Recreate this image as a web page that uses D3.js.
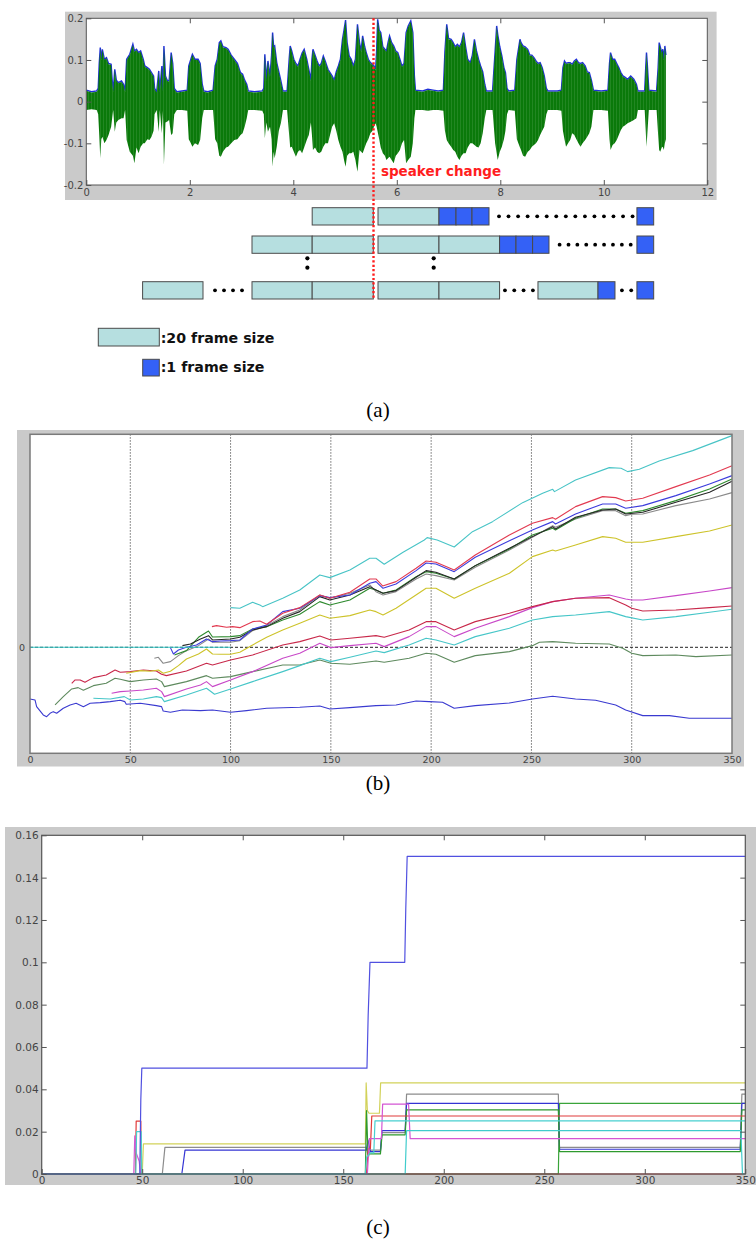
<!DOCTYPE html>
<html><head><meta charset="utf-8">
<script src="https://cdn.jsdelivr.net/npm/d3@7"></script>
<style>body{margin:0;background:#fff}svg{display:block}</style>
</head><body><script>
// ---------------- Panel (a) data ----------------
const aXTicks = [0, 2, 4, 6, 8, 10, 12];
const aYTicks = [-0.2, -0.1, 0, 0.1, 0.2];
const speakerChange = 5.55;
// waveform envelope: [time s, upper, lower]
const waveEnv = [
[0.00,0.026,-0.02],[0.10,0.022,-0.018],[0.20,0.024,-0.02],[0.23,0.03,-0.03],[0.25,0.09,-0.08],[0.27,0.128,-0.136],[0.29,0.10,-0.09],[0.31,0.124,-0.084],[0.35,0.10,-0.10],[0.39,0.104,-0.092],[0.43,0.09,-0.08],[0.48,0.088,-0.06],[0.50,0.05,-0.04],[0.52,0.024,-0.02],[0.55,0.076,-0.072],[0.58,0.05,-0.05],[0.62,0.044,-0.044],[0.68,0.048,-0.04],[0.72,0.04,-0.04],[0.75,0.024,-0.02],
[0.78,0.10,-0.092],[0.84,0.112,-0.12],[0.90,0.136,-0.13],[0.93,0.12,-0.148],[0.97,0.124,-0.11],[1.01,0.116,-0.124],[1.05,0.12,-0.108],[1.10,0.10,-0.10],[1.13,0.084,-0.10],[1.18,0.08,-0.09],[1.22,0.076,-0.092],[1.26,0.068,-0.084],[1.30,0.06,-0.07],[1.32,0.03,-0.03],[1.36,0.022,-0.02],[1.40,0.072,-0.072],[1.42,0.024,-0.02],[1.46,0.084,-0.076],[1.48,0.024,-0.022],[1.50,0.132,-0.152],[1.53,0.06,-0.05],[1.56,0.05,-0.048],[1.60,0.048,-0.044],[1.64,0.116,-0.08],[1.67,0.09,-0.076],[1.70,0.03,-0.03],[1.75,0.022,-0.02],[1.85,0.024,-0.02],[1.95,0.026,-0.022],
[1.98,0.084,-0.09],[2.02,0.10,-0.10],[2.05,0.112,-0.108],[2.10,0.10,-0.10],[2.16,0.10,-0.104],[2.20,0.09,-0.092],[2.24,0.04,-0.04],[2.27,0.024,-0.02],[2.35,0.022,-0.02],[2.45,0.026,-0.02],
[2.49,0.084,-0.09],[2.53,0.10,-0.10],[2.57,0.14,-0.13],[2.60,0.144,-0.132],[2.64,0.13,-0.12],[2.70,0.128,-0.11],[2.74,0.124,-0.108],[2.80,0.11,-0.10],[2.86,0.10,-0.092],[2.92,0.09,-0.09],[2.98,0.068,-0.08],[3.02,0.064,-0.076],[3.06,0.05,-0.06],[3.10,0.04,-0.04],[3.13,0.024,-0.02],[3.25,0.022,-0.02],[3.40,0.024,-0.022],
[3.43,0.03,-0.03],[3.45,0.112,-0.088],[3.48,0.05,-0.05],[3.51,0.096,-0.072],[3.55,0.06,-0.06],[3.58,0.11,-0.09],[3.60,0.164,-0.156],[3.62,0.13,-0.12],[3.64,0.132,-0.136],[3.68,0.092,-0.108],[3.72,0.07,-0.07],[3.76,0.048,-0.052],[3.80,0.024,-0.02],[3.88,0.024,-0.02],
[3.92,0.10,-0.08],[3.94,0.132,-0.11],[3.97,0.12,-0.108],[4.01,0.10,-0.12],[4.05,0.09,-0.132],[4.09,0.084,-0.12],[4.13,0.10,-0.116],[4.17,0.115,-0.124],[4.21,0.124,-0.11],[4.26,0.10,-0.092],[4.30,0.076,-0.08],[4.34,0.05,-0.05],[4.36,0.10,-0.08],[4.38,0.124,-0.116],[4.42,0.11,-0.11],[4.46,0.096,-0.12],[4.50,0.084,-0.124],[4.54,0.09,-0.12],[4.58,0.108,-0.108],[4.62,0.095,-0.10],[4.67,0.076,-0.10],[4.71,0.068,-0.08],[4.75,0.06,-0.06],[4.79,0.05,-0.052],
[4.83,0.07,-0.07],[4.87,0.084,-0.092],[4.91,0.10,-0.108],[4.95,0.148,-0.12],[4.98,0.17,-0.14],[5.01,0.194,-0.156],[5.04,0.14,-0.13],[5.08,0.108,-0.124],[5.12,0.10,-0.124],[5.16,0.084,-0.12],[5.20,0.10,-0.14],[5.24,0.184,-0.168],[5.28,0.14,-0.116],[5.31,0.12,-0.12],[5.34,0.156,-0.124],[5.38,0.13,-0.11],[5.41,0.116,-0.10],[5.45,0.10,-0.09],[5.49,0.092,-0.076],[5.53,0.088,-0.07],[5.56,0.084,-0.06],[5.59,0.076,-0.052],
[5.61,0.12,-0.06],[5.63,0.196,-0.072],[5.66,0.17,-0.09],[5.69,0.164,-0.11],[5.73,0.13,-0.124],[5.77,0.124,-0.13],[5.80,0.12,-0.14],[5.83,0.14,-0.136],[5.86,0.156,-0.132],[5.90,0.14,-0.14],[5.94,0.132,-0.148],[5.98,0.12,-0.13],[6.02,0.116,-0.124],[6.06,0.10,-0.116],[6.10,0.084,-0.10],[6.14,0.09,-0.092],[6.18,0.164,-0.148],[6.22,0.18,-0.14],[6.27,0.192,-0.132],[6.31,0.164,-0.10],[6.34,0.06,-0.04],[6.36,0.026,-0.02],[6.50,0.024,-0.02],[6.60,0.028,-0.022],[6.70,0.026,-0.02],[6.80,0.024,-0.02],[6.90,0.026,-0.022],
[6.93,0.12,-0.07],[6.965,0.184,-0.092],[7.00,0.15,-0.10],[7.05,0.148,-0.108],[7.09,0.14,-0.116],[7.13,0.13,-0.12],[7.17,0.136,-0.132],[7.21,0.13,-0.14],[7.25,0.14,-0.13],[7.29,0.164,-0.124],[7.33,0.13,-0.124],[7.37,0.10,-0.11],[7.42,0.092,-0.10],[7.46,0.11,-0.10],[7.50,0.148,-0.104],[7.54,0.12,-0.108],[7.58,0.10,-0.11],[7.62,0.084,-0.10],[7.66,0.07,-0.076],[7.70,0.04,-0.04],[7.73,0.024,-0.02],[7.85,0.024,-0.02],
[7.90,0.12,-0.10],[7.93,0.18,-0.124],[7.95,0.16,-0.14],[7.99,0.13,-0.12],[8.03,0.108,-0.108],[8.07,0.08,-0.09],[8.10,0.068,-0.07],[8.13,0.03,-0.03],[8.16,0.024,-0.02],[8.28,0.026,-0.022],
[8.32,0.10,-0.09],[8.38,0.148,-0.11],[8.40,0.14,-0.116],[8.44,0.132,-0.13],[8.48,0.13,-0.132],[8.53,0.124,-0.12],[8.57,0.11,-0.116],[8.61,0.11,-0.108],[8.65,0.104,-0.104],[8.69,0.096,-0.10],[8.73,0.09,-0.092],[8.77,0.092,-0.08],[8.81,0.08,-0.07],[8.85,0.06,-0.06],[8.89,0.03,-0.03],[8.92,0.024,-0.02],[9.10,0.024,-0.02],[9.18,0.026,-0.022],
[9.21,0.08,-0.07],[9.24,0.096,-0.09],[9.27,0.09,-0.108],[9.31,0.092,-0.10],[9.35,0.092,-0.092],[9.39,0.088,-0.076],[9.43,0.096,-0.08],[9.47,0.10,-0.09],[9.51,0.092,-0.10],[9.55,0.09,-0.108],[9.59,0.092,-0.10],[9.64,0.084,-0.092],[9.68,0.07,-0.084],[9.72,0.068,-0.076],[9.76,0.05,-0.06],[9.80,0.026,-0.02],[9.95,0.024,-0.02],[10.08,0.026,-0.022],
[10.11,0.09,-0.09],[10.13,0.116,-0.116],[10.17,0.10,-0.104],[10.21,0.10,-0.10],[10.25,0.09,-0.092],[10.29,0.08,-0.08],[10.33,0.068,-0.068],[10.37,0.06,-0.06],[10.42,0.056,-0.056],[10.46,0.052,-0.052],[10.52,0.06,-0.048],[10.58,0.052,-0.044],[10.63,0.04,-0.04],[10.66,0.024,-0.02],[10.79,0.024,-0.02],
[10.81,0.08,-0.07],[10.825,0.116,-0.108],[10.84,0.09,-0.08],[10.87,0.026,-0.02],[11.02,0.024,-0.02],[11.05,0.08,-0.08],[11.07,0.14,-0.116],[11.09,0.13,-0.12],[11.12,0.116,-0.11],[11.14,0.124,-0.108],[11.16,0.10,-0.116],[11.18,0.132,-0.10],[11.20,0.11,-0.09]
];
// analysis windows (start s, end s, kind)
const windowsRow1 = [[4.365,5.546,"f20"],[5.637,6.815,"f20"],[6.815,7.144,"f1"],[7.144,7.453,"f1"],[7.453,7.782,"f1"],[10.64,10.964,"f1"]];
const windowsRow2 = [[3.202,4.365,"f20"],[4.365,5.546,"f20"],[5.637,6.815,"f20"],[6.815,7.986,"f20"],[7.986,8.303,"f1"],[8.303,8.624,"f1"],[8.624,8.941,"f1"],[10.64,10.964,"f1"]];
const windowsRow3 = [[1.088,2.255,"f20"],[3.202,4.365,"f20"],[4.365,5.546,"f20"],[5.637,6.815,"f20"],[6.815,7.986,"f20"],[8.728,9.888,"f20"],[9.888,10.216,"f1"],[10.64,10.964,"f1"]];
const dotsRow1 = [7.975,8.159,8.344,8.528,8.713,8.897,9.081,9.266,9.450,9.635,9.819,10.003,10.187,10.372,10.556];
const dotsRow2 = [9.146,9.318,9.489,9.661,9.833,10.005,10.177,10.349,10.520];
const dotsRow3 = [2.487,2.661,2.835,3.009,8.09,8.27,8.45,8.63,10.35,10.53];
const dotsColon = [4.272,6.713];
const legendLabels = [":20 frame size", ":1 frame size"];

// ---------------- Panel (b) data ----------------
const bXTicks = [0,50,100,150,200,250,300,350];
const bGrid = [50,100,150,200,250,300];
const bCyanZero = [[0,0],[100,0]];
const bBlueBottom = [[0,-1.55],[2.5,-1.58],[3.3,-1.78],[6.6,-2.03],[8.3,-2.08],[10,-1.98],[11.6,-1.93],[13.3,-1.98],[16.6,-1.83],[20,-1.73],[23,-1.68],[26.6,-1.78],[30,-1.68],[35,-1.66],[40,-1.63],[45,-1.59],[47.3,-1.63],[48,-1.71],[55,-1.68],[63,-1.75],[65.6,-1.78],[66.4,-1.91],[70,-1.95],[76,-1.88],[85,-1.9],[91,-1.88],[100,-1.95],[108,-1.9],[118,-1.83],[134.5,-1.8],[144.5,-1.76],[149.5,-1.85],[159.5,-1.81],[172.5,-1.75],[182.5,-1.73],[192.5,-1.61],[199,-1.63],[205.7,-1.65],[211.5,-1.83],[222,-1.75],[239,-1.67],[250.5,-1.55],[260.6,-1.47],[272,-1.55],[282,-1.59],[292,-1.73],[297,-1.88],[305.5,-2.05],[318.8,-2.05],[328.7,-2.13],[350,-2.13]];
const bCyanTop = [[100,1.19],[104.6,1.17],[111,1.35],[114.6,1.27],[116,1.22],[126,1.47],[134.5,1.72],[144.5,2.17],[149.5,2.09],[159.5,2.32],[169.4,2.67],[172.5,2.67],[176.6,2.49],[186,2.85],[196.6,3.22],[198,3.29],[203,3.22],[211.5,3.01],[220.6,3.47],[230.6,3.77],[245.6,4.34],[255.6,4.62],[260.6,4.74],[261.5,4.67],[272,5.02],[288.8,5.39],[294.7,5.37],[298,5.27],[303.8,5.34],[313.7,5.59],[330.4,5.9],[350,6.35]];
const bRed = [[90.7,0.62],[93,0.65],[98,0.6],[101,0.62],[104.6,0.59],[111,0.77],[114.6,0.79],[118,0.69],[126,1.02],[134.5,1.19],[144.5,1.57],[149.5,1.47],[159.5,1.65],[169.4,2.05],[172.5,2.05],[175.8,1.84],[182.5,1.97],[192.5,2.37],[197.5,2.59],[202.4,2.55],[211.5,2.32],[222,2.77],[239,3.37],[250.5,3.72],[260.6,3.89],[262,3.84],[272,4.22],[285.5,4.52],[292,4.49],[297,4.39],[305.5,4.47],[322,4.82],[338.8,5.17],[350,5.45]];
const bBlue = [[70,-0.01],[71.5,-0.2],[74,-0.08],[78,0],[83,0.07],[88,0.25],[91,0.17],[95,0.19],[100,0.2],[104.6,0.22],[111,0.55],[118,0.67],[126,1.07],[134.5,1.17],[144.5,1.55],[149.5,1.49],[159.5,1.57],[169.4,1.92],[172.5,1.97],[176,1.77],[182.5,1.9],[192.5,2.3],[197.5,2.53],[202.4,2.5],[211.5,2.27],[222,2.7],[239,3.2],[250.5,3.52],[260.6,3.77],[262,3.7],[272,4.0],[285.5,4.3],[292,4.3],[297,4.17],[305.5,4.25],[322,4.55],[338.8,4.9],[350,5.15]];
const bGreen = [[72,-0.23],[78,-0.1],[84,0.3],[89,0.49],[91,0.31],[100,0.32],[104.6,0.35],[111,0.55],[118,0.62],[126,0.82],[134.5,0.99],[144.5,1.37],[149.5,1.27],[159.5,1.42],[169.4,1.77],[172.5,1.72],[176,1.62],[182.5,1.72],[192.5,2.12],[197.5,2.27],[202.4,2.22],[211.5,2.05],[222,2.45],[239,2.95],[250.5,3.37],[260.6,3.57],[262,3.52],[272,3.87],[285.5,4.15],[292,4.15],[297,4.02],[305.5,4.1],[322,4.4],[338.8,4.75],[350,5.05]];
const bGray = [[62,-0.33],[64,-0.3],[66.4,-0.48],[70,-0.43],[74,-0.25],[78,-0.1],[84,0.05],[89,0.25],[91,0.15],[100,0.15],[104.6,0.2],[111,0.5],[118,0.65],[126,0.92],[134.5,1.12],[144.5,1.57],[149.5,1.47],[159.5,1.62],[169.4,1.87],[172.5,1.67],[176,1.57],[182.5,1.67],[192.5,2.05],[197.5,2.2],[202.4,2.15],[211.5,2.02],[222,2.4],[239,2.92],[250.5,3.3],[260.6,3.65],[262,3.6],[272,3.85],[285.5,4.1],[292,4.1],[297,3.95],[300,3.99],[305.5,4.0],[322,4.25],[338.8,4.45],[350,4.64]];
const bBlack = [[76,0.05],[80,0.1],[85,0.25],[89,0.35],[91,0.22],[100,0.25],[104.6,0.3],[111,0.52],[118,0.62],[126,0.87],[134.5,1.07],[144.5,1.52],[149.5,1.42],[159.5,1.57],[169.4,1.82],[172.5,1.72],[176,1.62],[182.5,1.7],[192.5,2.1],[197.5,2.3],[202.4,2.25],[211.5,2.05],[222,2.45],[239,2.97],[250.5,3.32],[260.6,3.62],[262,3.55],[272,3.9],[285.5,4.12],[292,4.15],[297,4.0],[305.5,4.05],[322,4.35],[338.8,4.65],[350,4.98]];
const bYellow = [[48,-0.78],[55,-0.7],[60,-0.72],[64,-0.68],[66.4,-0.78],[70,-0.72],[74,-0.55],[78,-0.35],[84,-0.2],[88,-0.05],[91,-0.2],[95,-0.21],[100,-0.21],[104.6,-0.15],[111,0.07],[118,0.3],[126,0.52],[134.5,0.72],[144.5,0.97],[149.5,0.87],[159.5,0.95],[169.4,1.12],[172.5,1.07],[176,0.97],[182.5,1.17],[197.5,1.77],[202.4,1.77],[211.5,1.47],[222,1.77],[239,2.22],[250.5,2.72],[260.6,2.92],[262,2.89],[272,3.07],[285.5,3.32],[292,3.27],[297,3.15],[305.5,3.15],[322,3.32],[338.8,3.49],[350,3.67]];
const bRed2 = [[20.8,-1.08],[22.5,-0.98],[25,-0.98],[27.4,-1.05],[31.6,-0.91],[38,-0.83],[42.4,-0.68],[45,-0.75],[50,-0.73],[56.5,-0.68],[63,-0.71],[65.6,-0.81],[68,-0.85],[78,-0.71],[88,-0.48],[91,-0.53],[100,-0.38],[111,-0.23],[126,0.07],[134.5,0.17],[144.5,0.34],[150,0.22],[159.5,0.27],[172.5,0.35],[176.6,0.3],[189,0.52],[197.5,0.77],[202.4,0.77],[211.5,0.52],[222,0.77],[239,1.02],[250.5,1.22],[260.6,1.37],[272,1.47],[288.8,1.49],[297,1.27],[300,1.17],[305.5,1.09],[322,1.12],[338.8,1.19],[350,1.24]];
const bMagenta = [[40.7,-1.38],[45,-1.33],[50,-1.31],[56.5,-1.28],[63,-1.23],[65.6,-1.33],[67,-1.48],[78,-1.25],[85,-1.13],[88,-1.03],[91,-1.18],[100,-0.98],[111,-0.73],[126,-0.33],[134.5,-0.18],[144.5,0.12],[150,-0.01],[159.5,0.05],[172.5,0.12],[176.6,0.02],[189,0.32],[197.5,0.62],[202.4,0.62],[211.5,0.32],[222,0.57],[239,0.92],[250.5,1.19],[260.6,1.37],[272,1.47],[288.8,1.57],[297,1.45],[300,1.42],[305.5,1.42],[322,1.55],[338.8,1.69],[350,1.79]];
const bCyan2 = [[31.6,-1.53],[40,-1.55],[47,-1.48],[50,-1.58],[56.5,-1.55],[63,-1.48],[65.6,-1.51],[67,-1.63],[78,-1.43],[88,-1.23],[92,-1.41],[100,-1.25],[111,-1.03],[126,-0.73],[134.5,-0.55],[144.5,-0.33],[150,-0.43],[159.5,-0.3],[172.5,-0.11],[176.6,-0.16],[189,0.07],[197.5,0.27],[202.4,0.22],[211.5,0.07],[222,0.32],[239,0.57],[250.5,0.82],[260.6,0.92],[272,0.97],[288.8,1.07],[297,0.92],[305.5,0.82],[322,0.92],[338.8,1.05],[350,1.14]];
const bGreen2 = [[12.5,-1.73],[16.6,-1.48],[20.8,-1.25],[24,-1.21],[26.6,-1.29],[31.6,-1.15],[38,-1.08],[42.4,-0.93],[45,-0.96],[50,-1.03],[56.5,-0.98],[63,-0.95],[65.6,-1.03],[67,-1.18],[78,-1.03],[88,-0.85],[91,-0.93],[100,-0.88],[111,-0.73],[126,-0.53],[134.5,-0.53],[144.5,-0.38],[150,-0.48],[159.5,-0.51],[172.5,-0.41],[176.6,-0.45],[189,-0.33],[197.5,-0.18],[202.4,-0.21],[211.5,-0.45],[222,-0.25],[239,-0.13],[250.5,0.05],[254,0.15],[260.6,0.17],[272,0.12],[288.8,0.1],[295.5,-0.03],[300,-0.18],[305.5,-0.25],[322,-0.23],[332,-0.28],[350,-0.23]];

// ---------------- Panel (c) data ----------------
const cXTicks = [0,50,100,150,200,250,300,350];
const cYTicks = [0,0.02,0.04,0.06,0.08,0.1,0.12,0.14,0.16];
const cBlue = [[0,0],[48.8,0],[49.3,0.035],[49.8,0.05],[161.8,0.05],[162.4,0.075],[163.3,0.1],[180.6,0.1],[181.1,0.125],[181.8,0.15],[350,0.15]];
const cYellow = [[0,0],[50,0],[50.6,0.0142],[161,0.0142],[161.4,0.043],[162,0.03],[162.8,0.0287],[168,0.0287],[168.6,0.043],[350,0.043]];
const cGray = [[0,0],[60,0],[61.3,0.0126],[161.5,0.0126],[162.5,0.008],[163.5,0.0113],[168.5,0.0113],[169.2,0.0195],[180.8,0.0195],[181.5,0.0377],[257,0.0377],[257.5,0.0126],[347.5,0.0126],[348.3,0.0377],[350,0.0377]];
const cBlue2 = [[0,0],[69.7,0],[71.3,0.0113],[161.5,0.0113],[162.3,0.016],[163.5,0.0106],[168.5,0.0106],[169.3,0.0205],[180.8,0.0205],[181.5,0.0334],[257,0.0334],[257.6,0.0117],[347.5,0.0117],[348.3,0.0334],[350,0.0334]];
const cGreen = [[0,0],[161,0],[161.6,0.03],[162.3,0.0095],[168.5,0.0095],[169.3,0.0185],[180.8,0.0185],[181.5,0.0303],[257,0.0303],[257.6,0.0106],[347.5,0.0106],[348.3,0.0303],[350,0.0303]];
const cGreen2 = [[0,0],[257,0],[257.6,0.0334],[350,0.0334]];
const cRed = [[0,0],[46.6,0],[47,0.025],[49.3,0.025],[49.6,0],[161.5,0],[162.5,0.012],[163.5,0.012],[164.2,0.0274],[350,0.0274]];
const cRed0 = [[0,0],[350,0]];
const cCyan = [[0,0],[46.8,0],[47.2,0.02],[49.5,0.02],[49.8,0],[161,0],[161.6,0.008],[163.5,0.01],[165.2,0.01],[165.8,0.0251],[350,0.0251]];
const cCyan2 = [[0,0],[180.8,0],[181.5,0.0205],[347.8,0.0205],[348.6,0],[350,0]];
const cMagenta = [[0,0],[45.8,0],[46.3,0.018],[47,0.01],[48.5,0.006],[49.2,0],[162,0],[163,0.0167],[169,0.0167],[169.6,0.033],[182.5,0.033],[183.3,0.0167],[350,0.0167]];

// ---------------- drawing ----------------
const W = 756, H = 1243;
const GRAY = "#cacaca";
const svg = d3.select("body").append("svg").attr("width", W).attr("height", H)
  .style("font-family", "'DejaVu Sans', sans-serif");
const defs = svg.append("defs");
// vertical hatch texture for the waveform fill
const pat = defs.append("pattern").attr("id", "waveTex").attr("patternUnits", "userSpaceOnUse")
  .attr("width", 3).attr("height", 4);
pat.append("rect").attr("width", 3).attr("height", 4).attr("fill", "#0a790a");
pat.append("rect").attr("x", 1).attr("width", 0.8).attr("height", 4).attr("fill", "#3e963e").attr("opacity", 0.55);

function drawSeries(g, data, x, y, color, w) {
  g.append("path").datum(data)
    .attr("d", d3.line().x(d => x(d[0])).y(d => y(d[1])))
    .attr("fill", "none").attr("stroke", color).attr("stroke-width", w)
    .attr("stroke-linejoin", "round");
}
function styleAxis(g, size, color) {
  g.select(".domain").remove();
  g.selectAll(".tick line").attr("stroke", "#555");
  g.selectAll(".tick text").attr("font-size", size).attr("fill", color)
    .attr("font-family", "'DejaVu Sans', sans-serif");
}

// ===== Panel (a) =====
const xA = d3.scaleLinear([0, 12], [86.3, 707.3]);
const yA = d3.scaleLinear([-0.2, 0.2], [185, 18.3]);
const gA = svg.append("g");
gA.append("rect").attr("x", 65).attr("y", 11.7).attr("width", 651.6).attr("height", 188.3).attr("fill", GRAY);
gA.append("rect").attr("x", xA(0)).attr("y", yA(0.2)).attr("width", xA(12) - xA(0)).attr("height", yA(-0.2) - yA(0.2)).attr("fill", "#fff");
defs.append("clipPath").attr("id", "clipA").append("rect")
  .attr("x", xA(0)).attr("y", yA(0.2)).attr("width", xA(12) - xA(0)).attr("height", yA(-0.2) - yA(0.2));
const wave = gA.append("g").attr("clip-path", "url(#clipA)");
wave.append("path").datum(waveEnv)
  .attr("d", d3.line().x(d => xA(d[0])).y(d => yA(d[1])))
  .attr("transform", "translate(0,-0.7)")
  .attr("fill", "none").attr("stroke", "#1f2fd8").attr("stroke-width", 1.4);
wave.append("path").datum(waveEnv)
  .attr("d", d3.area().x(d => xA(d[0])).y0(d => yA(d[2])).y1(d => yA(d[1])))
  .attr("fill", "url(#waveTex)");
// frame + ticks
gA.append("rect").attr("x", xA(0)).attr("y", yA(0.2)).attr("width", xA(12) - xA(0)).attr("height", yA(-0.2) - yA(0.2))
  .attr("fill", "none").attr("stroke", "#555").attr("stroke-width", 1);
const axA1 = gA.append("g").attr("transform", `translate(0,${yA(-0.2)})`)
  .call(d3.axisBottom(xA).tickValues(aXTicks).tickSizeInner(-5).tickSizeOuter(0).tickPadding(4).tickFormat(d => String(d)));
styleAxis(axA1, 10, "#444");
const axA2 = gA.append("g").attr("transform", `translate(0,${yA(0.2)})`)
  .call(d3.axisTop(xA).tickValues(aXTicks.slice(1, -1)).tickSizeInner(-5).tickSizeOuter(0).tickFormat(""));
styleAxis(axA2, 10, "#444");
const axA3 = gA.append("g").attr("transform", `translate(${xA(0)},0)`)
  .call(d3.axisLeft(yA).tickValues(aYTicks).tickSizeInner(-5).tickSizeOuter(0).tickPadding(3).tickFormat(d => String(d)));
styleAxis(axA3, 10, "#444");
const axA4 = gA.append("g").attr("transform", `translate(${xA(12)},0)`)
  .call(d3.axisRight(yA).tickValues(aYTicks.slice(1, -1)).tickSizeInner(-5).tickSizeOuter(0).tickFormat(""));
styleAxis(axA4, 10, "#444");

// windows
const rows = [[windowsRow1, 207.7], [windowsRow2, 236], [windowsRow3, 281.7]];
const rowH = 17.3;
const FILL20 = "#b6dfe0", FILL1 = "#3461f6";
rows.forEach(([wins, top]) => {
  gA.selectAll(null).data(wins).enter().append("rect")
    .attr("x", d => xA(d[0])).attr("y", top)
    .attr("width", d => xA(d[1]) - xA(d[0])).attr("height", rowH)
    .attr("fill", d => d[2] === "f20" ? FILL20 : FILL1)
    .attr("stroke", "#4a4a4a").attr("stroke-width", 1);
});
const dotR = 1.9;
[[dotsRow1, 216.3], [dotsRow2, 244.7], [dotsRow3, 290.3]].forEach(([ds, cy]) => {
  gA.selectAll(null).data(ds).enter().append("circle")
    .attr("cx", d => xA(d)).attr("cy", cy).attr("r", dotR).attr("fill", "#000");
});
[258.3, 267.7].forEach(cy => {
  gA.selectAll(null).data(dotsColon).enter().append("circle")
    .attr("cx", d => xA(d)).attr("cy", cy).attr("r", dotR + 0.2).attr("fill", "#000");
});
// speaker change marker
gA.append("line").attr("x1", xA(speakerChange)).attr("x2", xA(speakerChange))
  .attr("y1", yA(0.2)).attr("y2", 299.5)
  .attr("stroke", "#ff1e1e").attr("stroke-width", 2.4).attr("stroke-dasharray", "2.2,2.2");
gA.append("text").attr("x", 380.9).attr("y", 175.5).text("speaker change")
  .attr("font-size", 13.5).attr("font-weight", "bold").attr("fill", "#ff1e1e");
// legend
gA.append("rect").attr("x", 98.3).attr("y", 328.3).attr("width", 61).attr("height", 17.7)
  .attr("fill", FILL20).attr("stroke", "#4a4a4a");
gA.append("rect").attr("x", 142.7).attr("y", 359.3).attr("width", 16.6).attr("height", 16.7)
  .attr("fill", FILL1).attr("stroke", "#4a4a4a");
gA.append("text").attr("x", 160.7).attr("y", 342.5).text(legendLabels[0])
  .attr("font-size", 14.2).attr("font-weight", "bold").attr("fill", "#111");
gA.append("text").attr("x", 160.7).attr("y", 372).text(legendLabels[1])
  .attr("font-size", 14.2).attr("font-weight", "bold").attr("fill", "#111");

// panel captions
const capFont = "'Liberation Serif', 'Times New Roman', serif";
[["(a)", 417], ["(b)", 790], ["(c)", 1234]].forEach(([t, y]) => {
  svg.append("text").attr("x", 378).attr("y", y).attr("text-anchor", "middle")
    .attr("font-family", capFont).attr("font-size", 21).attr("fill", "#000").text(t);
});

// ===== Panel (b) =====
const xB = d3.scaleLinear([0, 350], [30, 732]);
const yB = d3.scaleLinear([-3.18, 6.39], [753.3, 434.3]);
const gB = svg.append("g");
gB.append("rect").attr("x", 17).attr("y", 430).attr("width", 727).attr("height", 336.5).attr("fill", GRAY);
gB.append("rect").attr("x", xB(0)).attr("y", yB(6.39)).attr("width", xB(350) - xB(0)).attr("height", yB(-3.18) - yB(6.39)).attr("fill", "#fff");
gB.selectAll(null).data(bGrid).enter().append("line")
  .attr("x1", d => xB(d)).attr("x2", d => xB(d)).attr("y1", yB(6.39)).attr("y2", yB(-3.18))
  .attr("stroke", "#555").attr("stroke-width", 1).attr("stroke-dasharray", "1.3,1.7");
gB.append("line").attr("x1", xB(0)).attr("x2", xB(350)).attr("y1", yB(0)).attr("y2", yB(0))
  .attr("stroke", "#222").attr("stroke-width", 1).attr("stroke-dasharray", "3,2");
const bSeries = [
  [bBlueBottom, "#3a3ad0"], [bGreen2, "#5e8a5e"], [bCyan2, "#46c6c8"], [bMagenta, "#c848c8"], [bRed2, "#c8284a"],
  [bYellow, "#cdc32a"], [bGray, "#8a8a8a"], [bGreen, "#2e8a2e"], [bBlack, "#262626"], [bBlue, "#3c3cdc"], [bRed, "#e23a50"],
  [bCyanTop, "#48c4c6"], [bCyanZero, "#34c8c8"]
];
bSeries.forEach(([d, c]) => drawSeries(gB, d, xB, yB, c, 1.1));
gB.append("rect").attr("x", xB(0)).attr("y", yB(6.39)).attr("width", xB(350) - xB(0)).attr("height", yB(-3.18) - yB(6.39))
  .attr("fill", "none").attr("stroke", "#7a7a7a").attr("stroke-width", 1.5);
const axB1 = gB.append("g").attr("transform", `translate(0,${yB(-3.18)})`)
  .call(d3.axisBottom(xB).tickValues(bXTicks).tickSize(0).tickPadding(3).tickFormat(d => String(d)));
styleAxis(axB1, 9.5, "#444");
const axB2 = gB.append("g").attr("transform", `translate(${xB(0)},0)`)
  .call(d3.axisLeft(yB).tickValues([0]).tickSize(0).tickPadding(5).tickFormat(d => String(d)));
styleAxis(axB2, 9.5, "#444");

// ===== Panel (c) =====
const xC = d3.scaleLinear([0, 350], [41.7, 745.3]);
const yC = d3.scaleLinear([0, 0.16], [1174, 835.3]);
const gC = svg.append("g");
gC.append("rect").attr("x", 5).attr("y", 827).attr("width", 751).attr("height", 358).attr("fill", GRAY);
gC.append("rect").attr("x", xC(0)).attr("y", yC(0.16)).attr("width", xC(350) - xC(0)).attr("height", yC(0) - yC(0.16)).attr("fill", "#fff");
const cSeries = [
  [cGreen2, "#3aa43a"], [cRed0, "#e04040"], [cYellow, "#d2d25a"], [cGray, "#8c8c8c"], [cBlue2, "#3434d4"],
  [cGreen, "#2e9a2e"], [cRed, "#e03a3a"], [cMagenta, "#d456d4"], [cCyan, "#48d0d0"], [cCyan2, "#40cccc"], [cBlue, "#5050e0"]
];
cSeries.forEach(([d, c]) => drawSeries(gC, d, xC, yC, c, 1.2));
gC.append("rect").attr("x", xC(0)).attr("y", yC(0.16)).attr("width", xC(350) - xC(0)).attr("height", yC(0) - yC(0.16))
  .attr("fill", "none").attr("stroke", "#555").attr("stroke-width", 1.2);
const axC1 = gC.append("g").attr("transform", `translate(0,${yC(0)})`)
  .call(d3.axisBottom(xC).tickValues(cXTicks).tickSizeInner(-5).tickSizeOuter(0).tickPadding(3).tickFormat(d => String(d)));
styleAxis(axC1, 10.5, "#444");
const axC2 = gC.append("g").attr("transform", `translate(0,${yC(0.16)})`)
  .call(d3.axisTop(xC).tickValues(cXTicks.slice(1, -1)).tickSizeInner(-5).tickSizeOuter(0).tickFormat(""));
styleAxis(axC2, 10.5, "#444");
const axC3 = gC.append("g").attr("transform", `translate(${xC(0)},0)`)
  .call(d3.axisLeft(yC).tickValues(cYTicks).tickSizeInner(-5).tickSizeOuter(0).tickPadding(3).tickFormat(d => String(d)));
styleAxis(axC3, 10.5, "#444");
const axC4 = gC.append("g").attr("transform", `translate(${xC(350)},0)`)
  .call(d3.axisRight(yC).tickValues(cYTicks.slice(1, -1)).tickSizeInner(-5).tickSizeOuter(0).tickFormat(""));
styleAxis(axC4, 10.5, "#444");
</script></body></html>
